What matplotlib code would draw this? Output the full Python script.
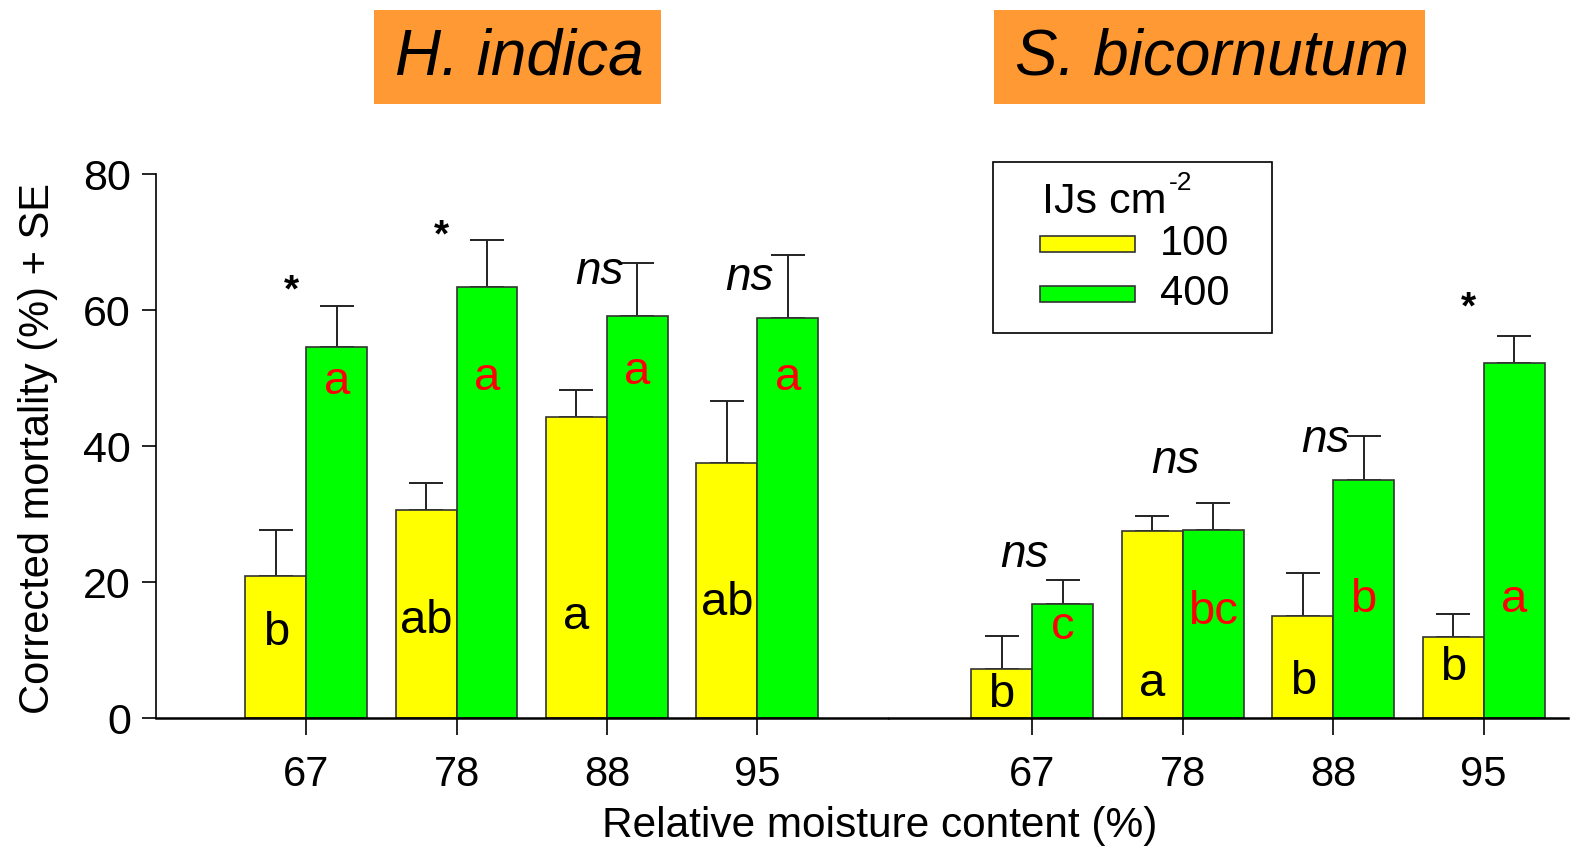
import numpy as np
import matplotlib
matplotlib.use("Agg")
import matplotlib.pyplot as plt
from matplotlib.patches import Rectangle

plt.rcParams['font.family'] = ['Liberation Sans', 'DejaVu Sans']

# data
moisture = ['67', '78', '88', '95']

# H. indica
hi_100 = [20.9, 30.6, 44.3, 37.5]
hi_100_se = [6.7, 4.0, 3.9, 9.1]
hi_400 = [54.5, 63.4, 59.1, 58.8]
hi_400_se = [6.0, 6.8, 7.7, 9.2]
hi_100_let = ['b', 'ab', 'a', 'ab']
hi_400_let = ['a', 'a', 'a', 'a']
hi_sig = ['*', '*', 'ns', 'ns']

# S. bicornutum
sb_100 = [7.2, 27.4, 15.0, 11.9]
sb_100_se = [4.9, 2.3, 6.3, 3.4]
sb_400 = [16.8, 27.6, 35.0, 52.2]
sb_400_se = [3.5, 4.0, 6.5, 3.9]
sb_100_let = ['b', 'a', 'b', 'b']
sb_400_let = ['c', 'bc', 'b', 'a']
sb_sig = ['ns', 'ns', 'ns', '*']

# where the letters / significance marks sit (data units)
hi_100_let_y = [12.6, 14.3, 14.9, 16.9]
hi_400_let_y = [49.4, 50.0, 50.9, 50.1]
hi_sig_y = [62.8, 70.8, 65.6, 64.7]
sb_100_let_y = [3.4, 5.0, 5.4, 7.4]
sb_400_let_y = [13.4, 15.7, 17.4, 17.4]
sb_sig_y = [24.0, 37.9, 40.9, 60.3]

legend_labels = ['100', '400']

YELLOW = '#ffff00'
GREEN = '#00ff00'
ORANGE = '#ff9933'
EDGE = '#333333'
W = 0.405
FW, FH = 1576, 853

fig = plt.figure(figsize=(15.76, 8.535), dpi=100)
ax1 = fig.add_axes([156 / FW, 135 / FH, 732 / FW, 544 / FH])
ax2 = fig.add_axes([889 / FW, 135 / FH, 679 / FW, 544 / FH])


def draw_panel(ax, v100, e100, v400, e400, l100, l400, ly100, ly400, sig, sigy):
    x = np.arange(len(moisture))
    ax.bar(x - W / 2, v100, W, color=YELLOW, edgecolor=EDGE, linewidth=1.2, zorder=2)
    ax.bar(x + W / 2, v400, W, color=GREEN, edgecolor=EDGE, linewidth=1.2, zorder=2)
    ax.errorbar(x - W / 2, v100, yerr=[np.zeros(len(x)), e100], fmt='none',
                ecolor='#222222', elinewidth=1.4, capsize=12, capthick=1.4, zorder=1)
    ax.errorbar(x + W / 2, v400, yerr=[np.zeros(len(x)), e400], fmt='none',
                ecolor='#222222', elinewidth=1.4, capsize=12, capthick=1.4, zorder=1)
    for i in range(len(x)):
        ax.text(x[i] - W / 2, ly100[i], l100[i], ha='center', va='center',
                fontsize=34, color='black', zorder=3)
        ax.text(x[i] + W / 2, ly400[i], l400[i], ha='center', va='center',
                fontsize=34, color='red', zorder=3)
        if sig[i] == '*':
            ax.text(x[i] - 0.1, sigy[i], '*', ha='center', va='center',
                    fontsize=28, fontweight='bold')
        else:
            ax.text(x[i] - 0.05, sigy[i], sig[i], ha='center', va='center',
                    fontsize=33, style='italic')
    ax.set_ylim(0, 80)
    ax.set_xticks(x)
    ax.set_xticklabels(moisture, fontsize=30)
    ax.tick_params(axis='x', direction='out', length=12, width=1.2, pad=14)
    ax.spines['top'].set_visible(False)
    ax.spines['right'].set_visible(False)
    ax.spines['bottom'].set_linewidth(1.8)


draw_panel(ax1, hi_100, hi_100_se, hi_400, hi_400_se, hi_100_let, hi_400_let,
           hi_100_let_y, hi_400_let_y, hi_sig, hi_sig_y)
draw_panel(ax2, sb_100, sb_100_se, sb_400, sb_400_se, sb_100_let, sb_400_let,
           sb_100_let_y, sb_400_let_y, sb_sig, sb_sig_y)

ax1.set_xlim(-1.0, 3.87)
ax2.set_xlim(-0.95, 3.56)
ax1.set_yticks([0, 20, 40, 60, 80])
ax1.tick_params(axis='y', labelsize=31, length=10, width=1.2, pad=8)
ax1.spines['left'].set_linewidth(1.2)
ax2.spines['left'].set_visible(False)
ax2.set_yticks([])

fig.text(38 / FW, 0.474, 'Corrected mortality (%) + SE', rotation=90,
         ha='center', va='center', fontsize=30)
fig.text(0.558, 0.032, 'Relative moisture content (%)', ha='center', va='center', fontsize=30.5)

# species title boxes
fig.patches.append(Rectangle((374 / FW, 1 - 104 / FH), 287 / FW, 94 / FH,
                             transform=fig.transFigure, facecolor=ORANGE, edgecolor='none'))
fig.patches.append(Rectangle((994 / FW, 1 - 104 / FH), 431 / FW, 94 / FH,
                             transform=fig.transFigure, facecolor=ORANGE, edgecolor='none'))
fig.text(519 / FW, 0.933, 'H. indica', ha='center', va='center', fontsize=46, style='italic')
fig.text(1212 / FW, 0.933, 'S. bicornutum', ha='center', va='center', fontsize=46, style='italic')

# legend, drawn by hand in figure pixels
def fx(px):
    return px / FW


def fy(py):
    return 1 - py / FH


fig.patches.append(Rectangle((fx(993), fy(333)), fx(279), 171 / FH, transform=fig.transFigure,
                             facecolor='white', edgecolor='black', linewidth=1.2, zorder=5))
fig.text(fx(1042), fy(202), 'IJs cm', ha='left', va='center', fontsize=31, zorder=6)
fig.text(fx(1169), fy(183), '-2', ha='left', va='center', fontsize=19, zorder=6)
for lab, col, yc in zip(legend_labels, [YELLOW, GREEN], [244, 294]):
    fig.patches.append(Rectangle((fx(1040), fy(yc + 8)), fx(95), 16 / FH, transform=fig.transFigure,
                                 facecolor=col, edgecolor=EDGE, linewidth=1.2, zorder=6))
    fig.text(fx(1160), fy(yc), lab, ha='left', va='center', fontsize=30, zorder=6)

fig.savefig('out.png', dpi=100)
